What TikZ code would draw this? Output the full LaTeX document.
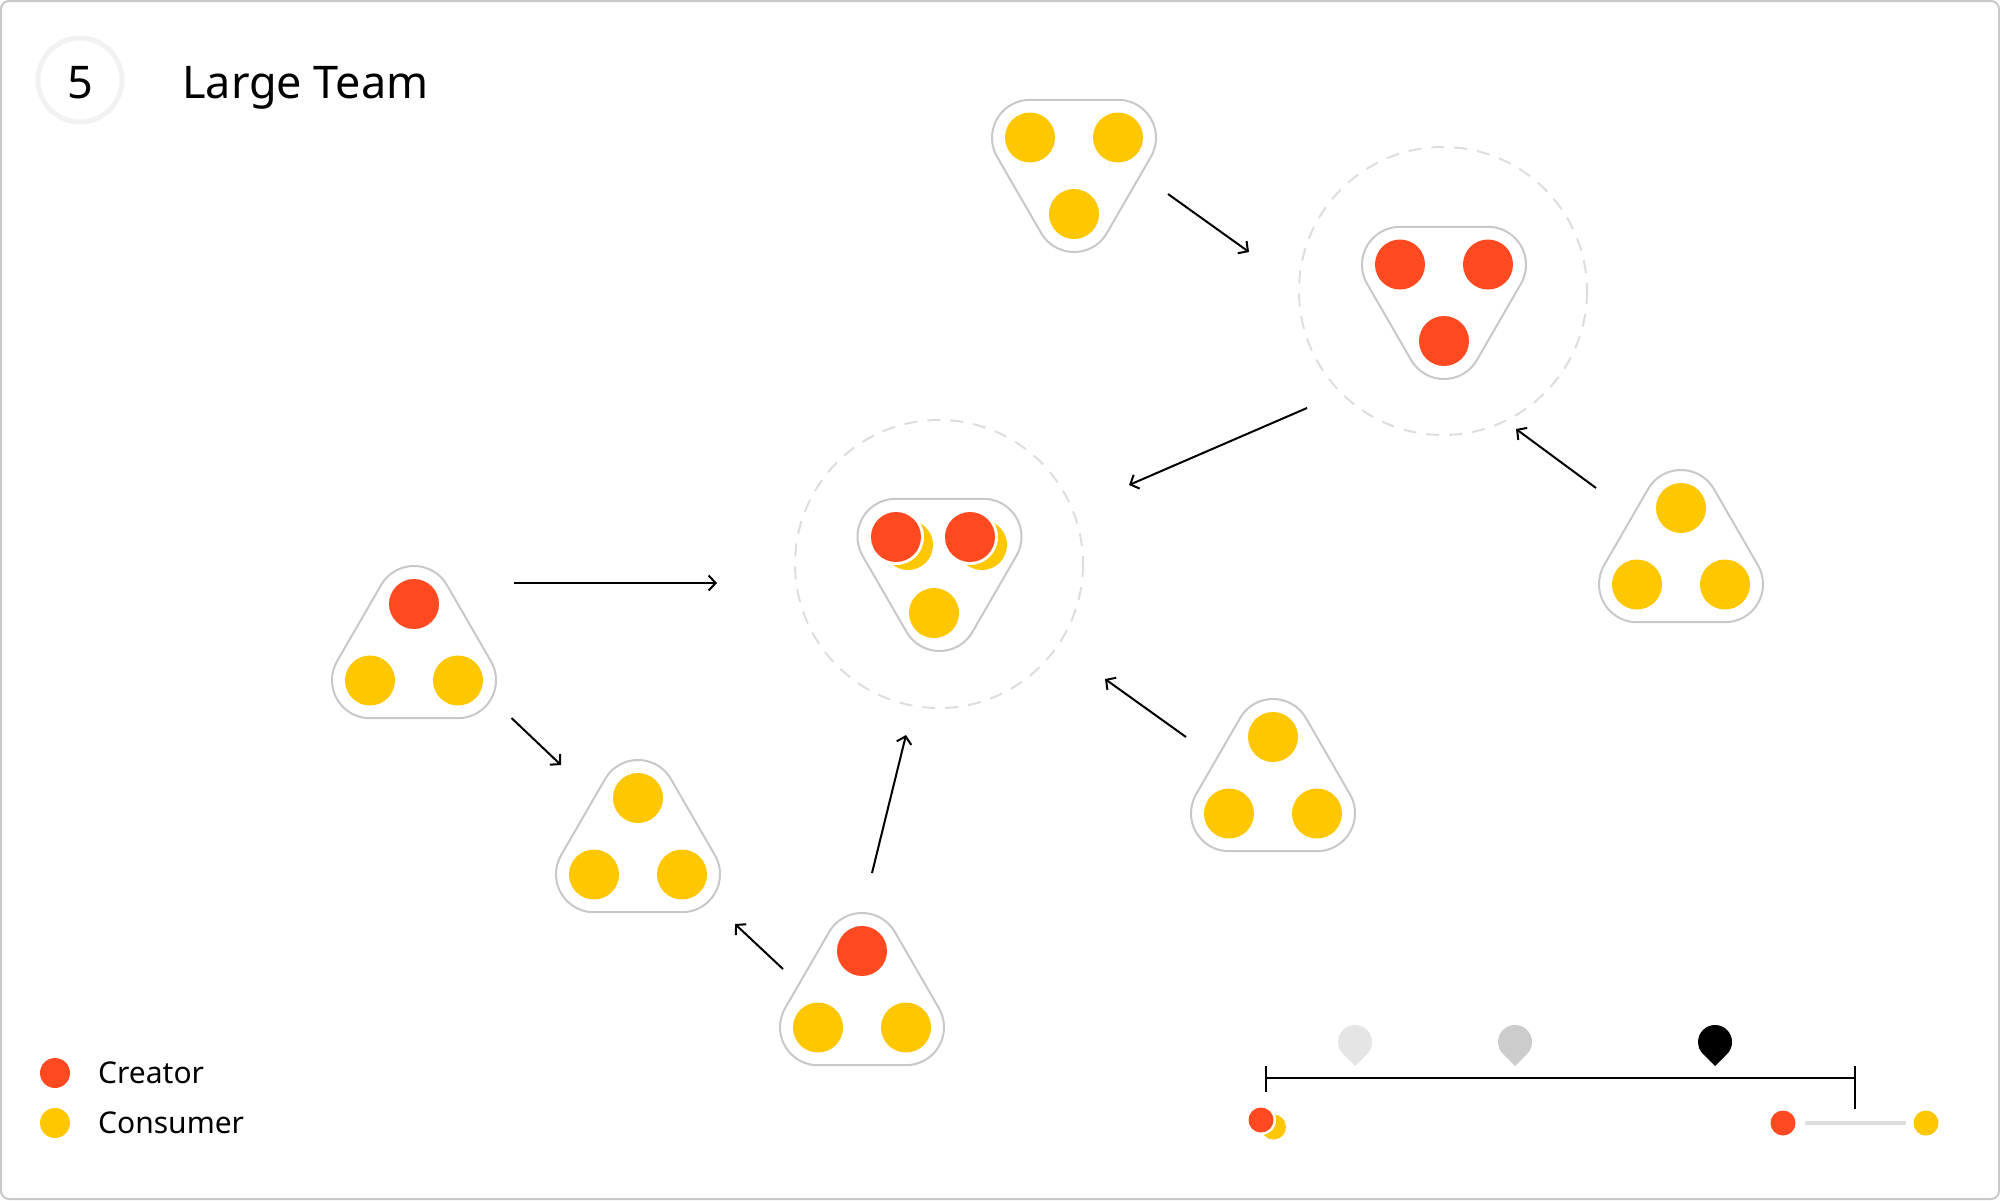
\documentclass[tikz,border=0pt]{standalone}
\usepackage{fontspec}
\setmainfont{Noto Sans}
\usetikzlibrary{arrows.meta, calc}
\definecolor{teamRed}{HTML}{FF4A21}
\definecolor{teamYellow}{HTML}{FFC700}
\definecolor{hullGray}{HTML}{C8C8C8}
\definecolor{zoneGray}{HTML}{DDDDDD}
\definecolor{ringGray}{HTML}{F2F2F2}
\definecolor{pinLight}{HTML}{E5E5E5}
\definecolor{pinMid}{HTML}{CCCCCC}

\begin{document}
\begin{tikzpicture}[
  x=1pt, y=-1pt,
  cre/.style={fill=teamRed},
  con/.style={fill=teamYellow},
  hull/.style={draw=hullGray, line width=2pt, fill=white},
  hull path/.style={insert path={
    (0,-51) ++(210:38) arc[start angle=210, end angle=330, radius=38]
      -- ++(60:88) arc[start angle=330, end angle=450, radius=38]
      -- ++(180:88) arc[start angle=90, end angle=210, radius=38] -- cycle}},
  zone/.style={draw=zoneGray, line width=2pt, dash pattern=on 13pt off 10pt},
  arr/.style={-{Straight Barb[length=7pt, width=15pt]}, line width=2pt},
  lbl/.style={anchor=base west, inner sep=0pt, font=\fontsize{30}{36}\selectfont},
  pics/hull/.style={code={\draw[hull, hull path];}},
  pics/team/.style n args={3}{code={
    \draw[hull, hull path];
    \fill[#1] (0,-51) circle[radius=25];
    \fill[#2] (-44,25.5) circle[radius=25];
    \fill[#3] (44,25.5) circle[radius=25];
  }}
]
\useasboundingbox (0,0) rectangle (2000,1200);
\draw[hullGray, line width=2pt, rounded corners=8pt] (1,1) rectangle (1999,1199);

% heading
\draw[ringGray, line width=5pt] (80,80) circle[radius=42];
\node[anchor=base, inner sep=0pt, font=\fontsize{45}{54}\selectfont] (num) at (80,98) {5};
\node[anchor=base west, inner sep=0pt, font=\fontsize{45}{54}\selectfont] (title) at (182,98) {Large Team};

% zones
\draw[zone] (1443,291) circle[radius=144];
\draw[zone] (939,564) circle[radius=144];

% teams
\pic (top)  at (1074,163) [rotate=180] {team={con}{con}{con}};
\pic (core) at (1444,290) [rotate=180] {team={cre}{cre}{cre}};
\pic (east) at (1681,559) {team={con}{con}{con}};
\pic (west) at (414,655)  {team={cre}{con}{con}};
\pic (sw)   at (638,849)  {team={con}{con}{con}};
\pic (south) at (862,1002) {team={cre}{con}{con}};
\pic (se)   at (1273,788) {team={con}{con}{con}};
\pic (mid)  at (939.5,562) [rotate=180] {hull};
\foreach \cx in {896,970} {
  \fill[con] (\cx+12,545) circle[radius=25];
  \fill[white] (\cx,537) circle[radius=28];
  \fill[cre] (\cx,537) circle[radius=25];
}
\fill[con] (934,613) circle[radius=25];

% flows
\coordinate (a1) at (1168,194);  \coordinate (a2) at (1249,252);
\coordinate (b1) at (1307,408);  \coordinate (b2) at (1129,485);
\coordinate (c1) at (1596,488);  \coordinate (c2) at (1516,429);
\coordinate (d1) at (514,583);   \coordinate (d2) at (717,583);
\coordinate (e1) at (511.5,718); \coordinate (e2) at (561,765);
\coordinate (f1) at (872,873);   \coordinate (f2) at (906,735);
\coordinate (g1) at (783,969);   \coordinate (g2) at (735,924);
\coordinate (h1) at (1186,737);  \coordinate (h2) at (1105,679);
\foreach \p in {a,b,c,d,e,f,g,h}
  \draw[arr] (\p1) -- (\p2);

% legend
\fill[cre] (55,1073) circle[radius=15];
\fill[con] (55,1123) circle[radius=15];
\node[lbl] (lcre) at (98,1083) {Creator};
\node[lbl] (lcon) at (98,1133) {Consumer};

% scale
\coordinate (s1) at (1266,1078);
\coordinate (s2) at (1855,1078);
\draw[line width=2.5pt] (s1) -- (s2);
\draw[line width=2pt] (1266,1066) -- (1266,1092);
\draw[line width=2pt] (1855,1066) -- (1855,1109);
\foreach \px/\pc in {1355/pinLight, 1515/pinMid, 1715/black}
  \fill[\pc] (\px,1066) -- ++(-12,-12) arc[start angle=135, end angle=405, radius=17] -- cycle;
\fill[con] (1273.5,1127) circle[radius=12.5];
\fill[white] (1261,1120) circle[radius=15];
\fill[cre] (1261,1120) circle[radius=12.5];
\draw[zoneGray, line width=4pt] (1805,1123) -- (1906,1123);
\fill[cre] (1783,1123) circle[radius=12.5];
\fill[con] (1926,1123) circle[radius=12.5];
\end{tikzpicture}
\end{document}
